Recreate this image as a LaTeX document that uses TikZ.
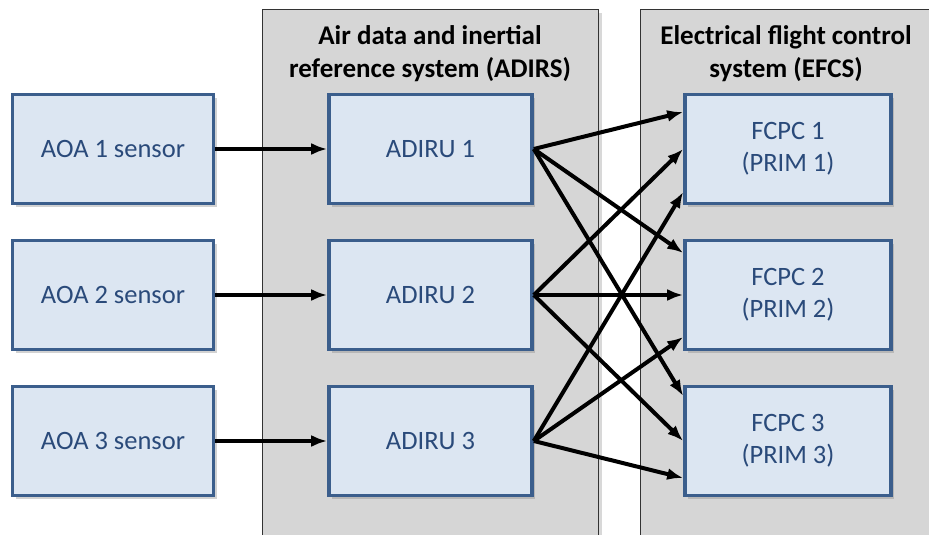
\documentclass[tikz,border=0pt]{standalone}
\usepackage{fontspec}
\setmainfont{Carlito}
\usetikzlibrary{shadows,arrows.meta}
\definecolor{boxfill}{HTML}{DCE6F2}
\definecolor{boxline}{HTML}{3B5E8C}
\definecolor{boxtext}{HTML}{2A4A7A}
\definecolor{panelfill}{HTML}{D6D6D6}
\tikzset{
  unitbox/.style={draw=boxline, line width=3.6pt, fill=boxfill, text=boxtext,
    minimum height=109pt, align=center, font=\fontsize{26.5}{32}\selectfont,
    drop shadow={shadow xshift=3pt, shadow yshift=-3pt, opacity=0.35}},
  panel/.style={draw=black!80, line width=1pt, fill=panelfill,
    drop shadow={shadow xshift=4pt, shadow yshift=-3pt, opacity=0.3}},
  title/.style={font=\bfseries\fontsize{27}{33}\selectfont, align=center, text=black},
  link/.style={-{Latex[length=16pt,width=12pt]}, line width=4pt, black},
}
\begin{document}
\begin{tikzpicture}[x=1pt,y=-1pt]
\useasboundingbox (0,0) rectangle (929,535);
\clip (0,0) rectangle (929,535);
\fill[white] (0,0) rectangle (929,535);
\draw[panel] (262,10) rectangle (598,545);
\draw[panel] (640,10) rectangle (940,545);
\node[title] (t1) at (430,54) {Air data and inertial\\reference system (ADIRS)};
\node[title] (t2) at (786,54) {Electrical flight control\\system (EFCS)};
\node[unitbox, minimum width=201pt] (s1) at (113,149) {AOA 1 sensor};
\node[unitbox, minimum width=201pt] (s2) at (113,295) {AOA 2 sensor};
\node[unitbox, minimum width=201pt] (s3) at (113,441) {AOA 3 sensor};
\node[unitbox, minimum width=203pt] (a1) at (430.5,149) {ADIRU 1};
\node[unitbox, minimum width=203pt] (a2) at (430.5,295) {ADIRU 2};
\node[unitbox, minimum width=203pt] (a3) at (430.5,441) {ADIRU 3};
\node[unitbox, minimum width=206pt] (f1) at (788,149) {FCPC 1\\(PRIM 1)};
\node[unitbox, minimum width=206pt] (f2) at (788,295) {FCPC 2\\(PRIM 2)};
\node[unitbox, minimum width=206pt] (f3) at (788,441) {FCPC 3\\(PRIM 3)};
\draw[link] (s1.east) -- (a1.west);
\draw[link] (s2.east) -- (a2.west);
\draw[link] (s3.east) -- (a3.west);
\draw[link] (a1.east) -- ([yshift=37pt]f1.west);
\draw[link] (a1.east) -- ([yshift=42pt]f2.west);
\draw[link] (a1.east) -- ([yshift=45pt]f3.west);
\draw[link] (a2.east) -- (f1.west);
\draw[link] (a2.east) -- (f2.west);
\draw[link] (a2.east) -- (f3.west);
\draw[link] (a3.east) -- ([yshift=-43pt]f1.west);
\draw[link] (a3.east) -- ([yshift=-42pt]f2.west);
\draw[link] (a3.east) -- ([yshift=-37pt]f3.west);
\end{tikzpicture}
\end{document}
